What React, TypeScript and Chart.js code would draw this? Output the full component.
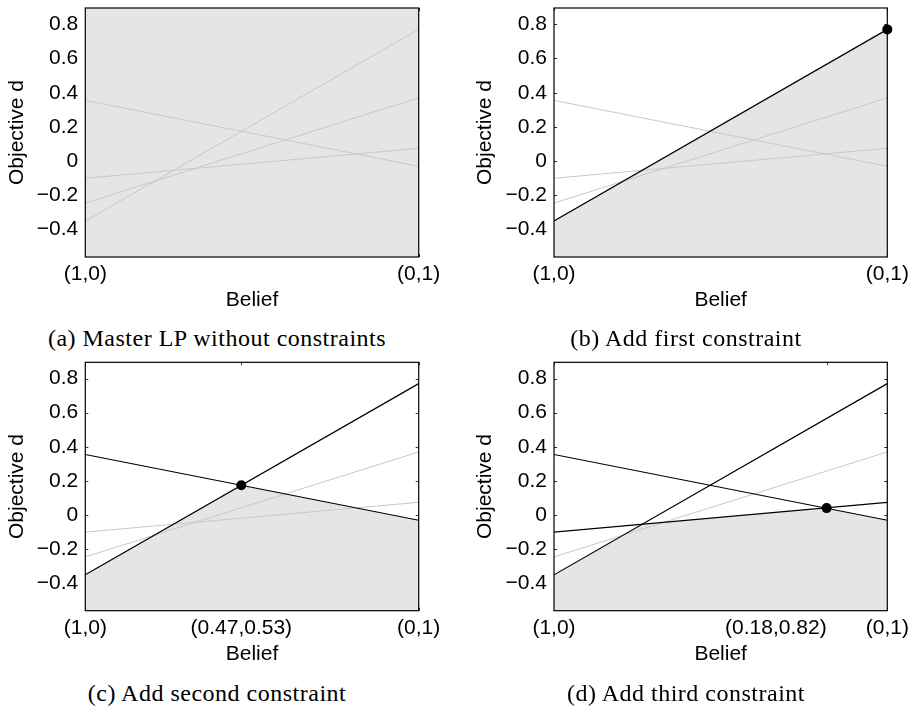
import React, { useEffect, useRef } from "react";
import { Chart, registerables } from "chart.js";

Chart.register(...registerables);

// ---------- data ----------
const Y_MIN = -0.56;
const Y_MAX = 0.895;
const Y_TICKS = [-0.4, -0.2, 0, 0.2, 0.4, 0.6, 0.8];
const Y_TICK_LABELS = ["\u22120.4", "\u22120.2", "0", "0.2", "0.4", "0.6", "0.8"];

const BELIEF_ENDS = [0, 1];
const END_TICK_LABELS = ["(1,0)", "(0,1)"];

// constraint lines: value at belief (1,0) and at belief (0,1)
const CONSTRAINT_A = [-0.35, 0.77];
const CONSTRAINT_B = [0.355, -0.03];
const CONSTRAINT_C = [-0.245, 0.37];
const CONSTRAINT_D = [-0.1, 0.075];

// feasible-region upper envelopes
const ENVELOPE_A_X = [0, 1];
const ENVELOPE_A_Y = [Y_MAX, Y_MAX];
const ENVELOPE_B_X = [0, 1];
const ENVELOPE_B_Y = [-0.35, 0.77];
const ENVELOPE_C_X = [0, 0.468, 1];
const ENVELOPE_C_Y = [-0.35, 0.175, -0.03];
const ENVELOPE_D_X = [0, 0.265, 0.818, 1];
const ENVELOPE_D_Y = [-0.35, -0.053, 0.041, -0.03];

// optimum points
const OPTIMUM_B = [1, 0.77];
const OPTIMUM_C = [0.468, 0.175];
const OPTIMUM_D = [0.818, 0.041];

// middle belief tick labels
const MID_TICK_C = [0.468];
const MID_LABEL_C = ["(0.47,0.53)"];
const MID_TICK_D = [0.818];
const MID_LABEL_D = ["(0.18,0.82)"];

const CAPTIONS = [
  "(a) Master LP without constraints",
  "(b) Add first constraint",
  "(c) Add second constraint",
  "(d) Add third constraint",
];

// ---------- styling ----------
const FILL = "rgb(229,229,229)";
const GRAY = "rgb(200,200,200)";
const BLACK = "#000";
const SANS = "'Liberation Sans', Arial, Helvetica, sans-serif";
const SERIF = "'Liberation Serif', 'Times New Roman', serif";
const FONT_SIZE = 21;

const CANVAS_W = 480;
const CANVAS_H = 320;
const Y_AXIS_W = 84;
const X_AXIS_H = 56;

const toPts = (xs: number[], ys: number[]) => xs.map((x, i) => ({ x, y: ys[i] }));
const linePts = (c: number[]) => toPts(BELIEF_ENDS, c);

type Panel = {
  left: number;
  top: number;
  chartLeft: number;
  chartRight: number;
  chartTop: number;
  chartBottom: number;
  envX: number[];
  envY: number[];
  black: number[][];
  gray: number[][];
  optimum: number[] | null;
  midTicks: number[];
  midLabels: string[];
  midAlign: "center" | "right";
  caption: string;
  capX: number;
  capY: number;
};

const PANELS: Panel[] = [
  {
    left: 0, top: 0, chartLeft: 85.3, chartRight: 418.7, chartTop: 8, chartBottom: 257,
    envX: ENVELOPE_A_X, envY: ENVELOPE_A_Y,
    black: [], gray: [CONSTRAINT_A, CONSTRAINT_B, CONSTRAINT_C, CONSTRAINT_D],
    optimum: null, midTicks: [], midLabels: [], midAlign: "center",
    caption: CAPTIONS[0], capX: 217, capY: 338,
  },
  {
    left: 454, top: 0, chartLeft: 100, chartRight: 433.3, chartTop: 8, chartBottom: 257,
    envX: ENVELOPE_B_X, envY: ENVELOPE_B_Y,
    black: [CONSTRAINT_A], gray: [CONSTRAINT_B, CONSTRAINT_C, CONSTRAINT_D],
    optimum: OPTIMUM_B, midTicks: [], midLabels: [], midAlign: "center",
    caption: CAPTIONS[1], capX: 686, capY: 338,
  },
  {
    left: 0, top: 354, chartLeft: 85.3, chartRight: 418.7, chartTop: 8.3, chartBottom: 256.7,
    envX: ENVELOPE_C_X, envY: ENVELOPE_C_Y,
    black: [CONSTRAINT_A, CONSTRAINT_B], gray: [CONSTRAINT_C, CONSTRAINT_D],
    optimum: OPTIMUM_C, midTicks: MID_TICK_C, midLabels: MID_LABEL_C, midAlign: "center",
    caption: CAPTIONS[2], capX: 217, capY: 693,
  },
  {
    left: 454, top: 354, chartLeft: 100, chartRight: 433.3, chartTop: 8.3, chartBottom: 256.7,
    envX: ENVELOPE_D_X, envY: ENVELOPE_D_Y,
    black: [CONSTRAINT_A, CONSTRAINT_B, CONSTRAINT_D], gray: [CONSTRAINT_C],
    optimum: OPTIMUM_D, midTicks: MID_TICK_D, midLabels: MID_LABEL_D, midAlign: "right",
    caption: CAPTIONS[3], capX: 686, capY: 693,
  },
];

const framePlugin = {
  id: "frame",
  beforeDatasetsDraw(chart: any) {
    const { ctx, chartArea: a, scales } = chart;
    const y = scales.y;
    const x = scales.x;
    ctx.save();
    ctx.strokeStyle = "#333";
    ctx.lineWidth = 1;
    const tl = 3;
    y.ticks.forEach((t: any) => {
      const py = Math.round(y.getPixelForValue(t.value)) + 0.5;
      ctx.beginPath();
      ctx.moveTo(a.left, py);
      ctx.lineTo(a.left + tl, py);
      ctx.moveTo(a.right, py);
      ctx.lineTo(a.right - tl, py);
      ctx.stroke();
    });
    x.ticks.forEach((t: any) => {
      const px = Math.round(x.getPixelForValue(t.value)) + 0.5;
      ctx.beginPath();
      ctx.moveTo(px, a.top);
      ctx.lineTo(px, a.top + tl);
      ctx.moveTo(px, a.bottom);
      ctx.lineTo(px, a.bottom - tl);
      ctx.stroke();
    });
    ctx.restore();
  },
  afterDraw(chart: any, _args: any, opts: any) {
    const { ctx, chartArea: a, scales } = chart;
    ctx.save();
    ctx.strokeStyle = "#000";
    ctx.lineWidth = 1.2;
    ctx.strokeRect(a.left, a.top, a.right - a.left, a.bottom - a.top);
    if (opts && opts.align === "right" && opts.ticks) {
      ctx.fillStyle = "#000";
      ctx.font = `${FONT_SIZE}px ${SANS}`;
      ctx.textAlign = "right";
      ctx.textBaseline = "middle";
      opts.ticks.forEach((v: number, i: number) => {
        const px = scales.x.getPixelForValue(v);
        ctx.fillText(opts.labels[i], px, a.bottom + 5 + FONT_SIZE * 0.6);
      });
    }
    ctx.restore();
  },
};

function PanelChart({ p }: { p: Panel }) {
  const ref = useRef<HTMLCanvasElement | null>(null);
  useEffect(() => {
    if (!ref.current) return;
    const datasets: any[] = [];
    datasets.push({
      data: toPts(p.envX, p.envY),
      borderWidth: 0,
      borderColor: "rgba(0,0,0,0)",
      backgroundColor: FILL,
      fill: "start",
      pointRadius: 0,
      order: 10,
    });
    p.gray.forEach((c) =>
      datasets.push({
        data: linePts(c),
        borderColor: GRAY,
        borderWidth: 1,
        pointRadius: 0,
        fill: false,
        order: 5,
      })
    );
    p.black.forEach((c) =>
      datasets.push({
        data: linePts(c),
        borderColor: BLACK,
        borderWidth: 1.2,
        pointRadius: 0,
        fill: false,
        order: 2,
      })
    );
    if (p.optimum) {
      datasets.push({
        data: [{ x: p.optimum[0], y: p.optimum[1] }],
        showLine: false,
        pointRadius: 5,
        pointBackgroundColor: BLACK,
        pointBorderColor: BLACK,
        pointBorderWidth: 0,
        clip: false,
        order: 1,
      });
    }
    const xTickVals = [BELIEF_ENDS[0], ...p.midTicks, BELIEF_ENDS[1]];
    const xTickLabels = [
      END_TICK_LABELS[0],
      ...p.midLabels.map((l) => (p.midAlign === "center" ? l : "")),
      END_TICK_LABELS[1],
    ];
    const chart = new Chart(ref.current, {
      type: "line",
      data: { datasets },
      options: {
        animation: false,
        responsive: false,
        maintainAspectRatio: false,
        events: [],
        layout: {
          padding: {
            left: p.chartLeft - Y_AXIS_W,
            right: CANVAS_W - p.chartRight,
            top: p.chartTop,
            bottom: CANVAS_H - p.chartBottom - X_AXIS_H,
          },
        },
        plugins: {
          legend: { display: false },
          tooltip: { enabled: false },
          frame: { align: p.midAlign, ticks: p.midTicks, labels: p.midLabels },
        } as any,
        scales: {
          x: {
            type: "linear",
            min: 0,
            max: 1,
            grid: { display: false, drawTicks: false },
            border: { display: false },
            afterBuildTicks: (axis: any) => {
              axis.ticks = xTickVals.map((v) => ({ value: v }));
            },
            afterFit: (axis: any) => {
              axis.height = X_AXIS_H;
              axis.paddingLeft = 0;
              axis.paddingRight = 0;
            },
            ticks: {
              autoSkip: false,
              maxRotation: 0,
              minRotation: 0,
              padding: 5,
              color: "#000",
              font: { family: SANS, size: FONT_SIZE },
              callback: (_v: any, i: number) => xTickLabels[i],
            },
            title: {
              display: true,
              text: "Belief",
              color: "#000",
              font: { family: SANS, size: FONT_SIZE },
              padding: { top: 0, bottom: 0 },
            },
          },
          y: {
            type: "linear",
            min: Y_MIN,
            max: Y_MAX,
            grid: { display: false, drawTicks: false },
            border: { display: false },
            afterBuildTicks: (axis: any) => {
              axis.ticks = Y_TICKS.map((v) => ({ value: v }));
            },
            afterFit: (axis: any) => {
              axis.width = Y_AXIS_W;
              axis.paddingTop = 0;
              axis.paddingBottom = 0;
            },
            ticks: {
              padding: 7,
              color: "#000",
              font: { family: SANS, size: FONT_SIZE },
              callback: (_v: any, i: number) => Y_TICK_LABELS[i],
            },
            title: {
              display: true,
              text: "Objective d",
              color: "#000",
              font: { family: SANS, size: FONT_SIZE },
              padding: { top: 3, bottom: 0 },
            },
          },
        },
      },
      plugins: [framePlugin],
    });
    return () => chart.destroy();
  }, [p]);
  return (
    <canvas
      ref={ref}
      width={CANVAS_W}
      height={CANVAS_H}
      style={{ position: "absolute", left: p.left, top: p.top, width: CANVAS_W, height: CANVAS_H }}
    />
  );
}

export default function App() {
  return (
    <div
      style={{
        position: "fixed",
        left: 0,
        top: 0,
        width: 909,
        height: 709,
        overflow: "hidden",
        background: "#fff",
      }}
    >
      {PANELS.map((p, i) => (
        <PanelChart key={i} p={p} />
      ))}
      {PANELS.map((p, i) => (
        <div
          key={"c" + i}
          style={{
            position: "absolute",
            left: p.capX - 220,
            top: p.capY - 14,
            width: 440,
            height: 28,
            lineHeight: "28px",
            textAlign: "center",
            fontFamily: SERIF,
            fontSize: 24,
            letterSpacing: "0.5px",
            color: "#000",
            whiteSpace: "nowrap",
          }}
        >
          {p.caption}
        </div>
      ))}
    </div>
  );
}
